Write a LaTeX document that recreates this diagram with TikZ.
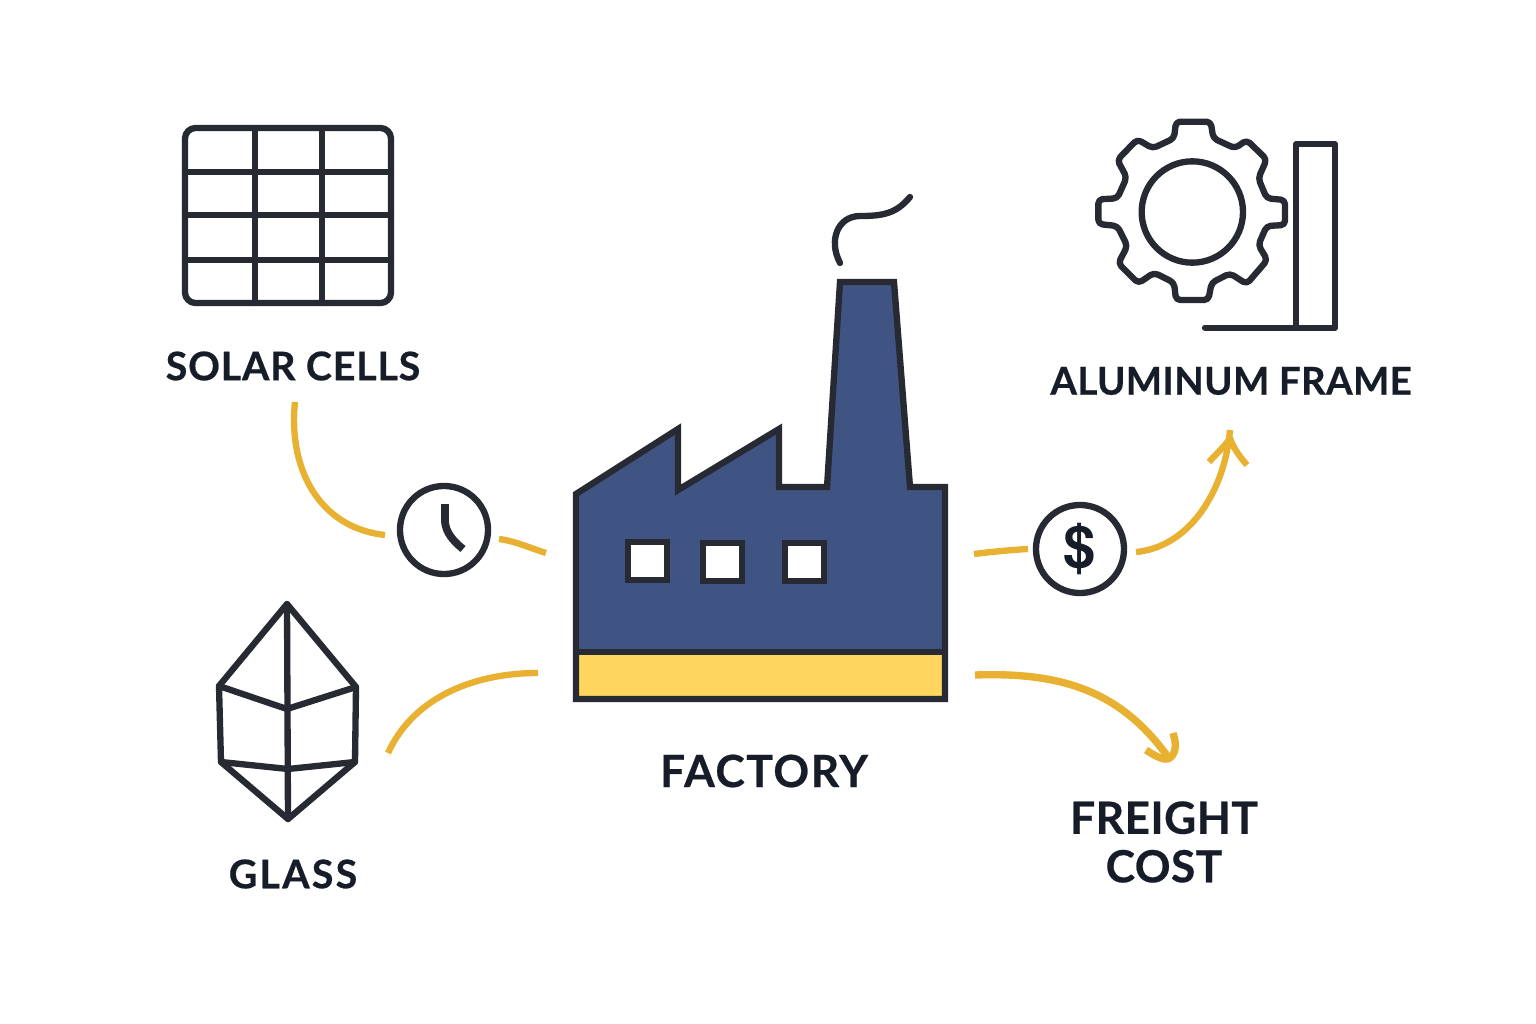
\documentclass[tikz,border=0pt]{standalone}
\usepackage{fontspec}
\setmainfont{Lato}
\newfontfamily\dollarfont{TeX Gyre Heros}
\newcommand\labelfont[2]{\fontspec[LetterSpace=#2,BoldFeatures={FakeBold=0.5}]{Lato}\bfseries\fontsize{#1}{#1}\selectfont}
\definecolor{ink}{HTML}{272A33}
\definecolor{labelink}{HTML}{161C28}
\definecolor{blue}{HTML}{3F5483}
\definecolor{band}{HTML}{FDD55F}
\definecolor{gold}{HTML}{E8B131}
\tikzset{
  icon/.style={draw=ink,line width=1.8pt,line join=round,line cap=round},
  flow/.style={draw=gold,line width=1.8pt,line cap=butt,line join=round},
  lab/.style={text=labelink,align=center,inner sep=0pt},
  ring/.style={circle,draw=ink,line width=1.8pt,minimum size=0.88cm,inner sep=0pt,fill=white}
}
\begin{document}
\begin{tikzpicture}[x=0.01cm,y=-0.01cm]
\useasboundingbox (0,0) rectangle (1536,1024);
% solar cells
\draw[icon,rounded corners=3pt] (185,128) rectangle (391,303);
\draw[icon] (255,128)--(255,303) (322,128)--(322,303) (185,172)--(391,172) (185,215)--(391,215) (185,260)--(391,260);
\node[lab,font=\labelfont{11.2}{2}] (solar) at (293,366) {SOLAR CELLS};
% glass
\draw[icon] (287,604)--(219,686)--(221,762)--(288,819)--(355,762)--(356,687)--cycle;
\draw[icon] (287,604)--(288,819) (219,686)--(287,709)--(356,687) (221,762)--(288,769)--(355,762);
\node[lab,font=\labelfont{11.2}{5.6}] (glass) at (293,874) {GLASS};
% factory
\fill[blue] (576,494)--(678,429)--(678,490)--(779,429)--(779,487)--(827,487)--(840,282)--(894,282)--(910,487)--(945,487)--(945,652)--(576,652)--cycle;
\fill[band] (576,652) rectangle (945,699);
\draw[icon,line cap=butt,line join=miter] (576,494)--(678,429)--(678,490)--(779,429)--(779,487)--(827,487)--(840,282)--(894,282)--(910,487)--(945,487)--(945,699)--(576,699)--cycle;
\draw[icon,line cap=butt] (576,652)--(945,652);
\foreach \wx/\wy in {628/542,703/543,785/543}
  \draw[icon,fill=white,line join=miter] (\wx,\wy) rectangle ++(39,38);
\draw[icon] (840,263) .. controls (828,240) and (838,216) .. (860,216) .. controls (882,216) and (896,214) .. (910,197);
\node[lab,font=\labelfont{12.6}{3.5}] (factory) at (764,771) {FACTORY};
% gear and frame
\begin{scope}[shift={(1040,100)},x=0.01cm/3,y=-0.01cm/3]
\draw[icon,rounded corners=1.2pt] (408,65)--(512,65)--(520,115)--(585,145)--(620,120)--(680,178)--(655,235)--(680,295)--(735,300)--(735,375)--(680,378)--(655,435)--(682,480)--(620,552)--(570,520)--(515,548)--(505,600)--(408,600)--(402,548)--(342,518)--(295,550)--(235,490)--(262,438)--(232,378)--(175,372)--(175,298)--(232,295)--(260,232)--(232,180)--(292,118)--(338,145)--(402,115)--cycle;
\draw[icon] (457,336) circle (152);
\draw[icon] (495,683)--(885,683)--(885,133)--(768,133)--(768,683);
\end{scope}
\node[lab,font=\labelfont{10.9}{1}] (frame) at (1231,381) {ALUMINUM FRAME};
\node[lab,font=\labelfont{12.6}{1}] (freight) at (1164,842) {FREIGHT\\[1.2pt]COST};
% clock and dollar
\node[ring] (clock) at (444,530) {};
\draw[icon,line cap=butt,line width=2.2pt] (445,504)--(445,522) .. controls (446,532) and (452,540) .. (463,549);
\node[ring,font=\dollarfont\bfseries\fontsize{16.5}{18}\selectfont,text=labelink] (dollar) at (1080,549) {\$};
% connectors
\coordinate (a1) at (295,402); \coordinate (a2) at (385,535);
\coordinate (b1) at (499,539); \coordinate (b2) at (546,553);
\coordinate (c1) at (388,753); \coordinate (c2) at (538,673);
\coordinate (d1) at (974,554); \coordinate (d2) at (1028,549);
\coordinate (e1) at (1136,552); \coordinate (e2) at (1230,430);
\coordinate (f1) at (975,675); \coordinate (f2) at (1168,757);
\coordinate (e3) at (1209,462); \coordinate (e4) at (1247,465);
\coordinate (f3) at (1146,750); \coordinate (f4) at (1173,733);
\draw[flow] (a1) .. controls (288,470) and (320,528) .. (a2);
\draw[flow] (b1) .. controls (515,541) and (530,548) .. (b2);
\draw[flow] (c1) .. controls (412,700) and (470,673) .. (c2);
\draw[flow] (d1) .. controls (990,552) and (1010,550) .. (d2);
\draw[flow] (e1) .. controls (1190,547) and (1225,490) .. (e2);
\draw[flow] (e3) .. controls (1218,452) and (1226,445) .. (1230,438) .. controls (1232,445) and (1238,455) .. (e4);
\draw[flow,line width=2.1pt] (f1) .. controls (1060,672) and (1120,690) .. (f2);
\draw[flow,line width=2.1pt] (f3) .. controls (1155,756) and (1163,760) .. (1168,759) .. controls (1176,755) and (1177,745) .. (f4);
\end{tikzpicture}
\end{document}
